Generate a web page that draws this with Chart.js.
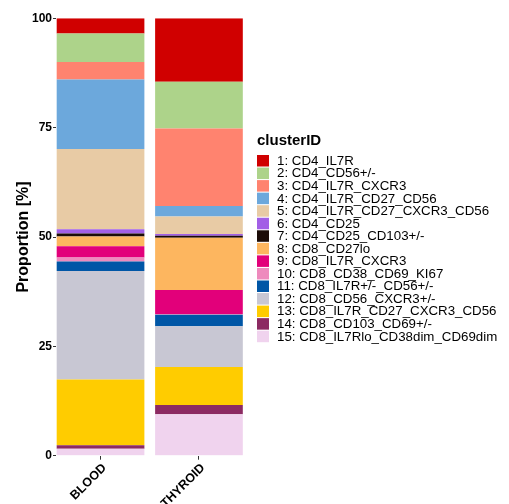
<!DOCTYPE html>
<html>
<head>
<meta charset="utf-8">
<script src="https://cdn.jsdelivr.net/npm/chart.js@4/dist/chart.umd.min.js"></script>
<style>
  html, body { margin: 0; padding: 0; background: #ffffff; }
  #wrap { width: 509px; height: 504px; position: relative; }
</style>
</head>
<body>
<div id="wrap"><canvas id="chart" width="509" height="504"></canvas></div>
<script>
// Sample groups on the x axis
const categories = ['BLOOD', 'THYROID'];

// Cluster names, listed top of the stack first
const clusterNames = [
  '1: CD4_IL7R',
  '2: CD4_CD56+/-',
  '3: CD4_IL7R_CXCR3',
  '4: CD4_IL7R_CD27_CD56',
  '5: CD4_IL7R_CD27_CXCR3_CD56',
  '6: CD4_CD25',
  '7: CD4_CD25_CD103+/-',
  '8: CD8_CD27lo',
  '9: CD8_IL7R_CXCR3',
  '10: CD8_CD38_CD69_KI67',
  '11: CD8_IL7R+/-_CD56+/-',
  '12: CD8_CD56_CXCR3+/-',
  '13: CD8_IL7R_CD27_CXCR3_CD56',
  '14: CD8_CD103_CD69+/-',
  '15: CD8_IL7Rlo_CD38dim_CD69dim'
];

const clusterColors = [
  '#D00000', '#ADD38A', '#FF836F', '#6CA8DC', '#E8CBA5',
  '#A25FE6', '#1B0C08', '#FDB65F', '#E2007A', '#EE8ABD',
  '#0056A6', '#C8C7D3', '#FFCC00', '#8C2A62', '#F0D3EE'
];

// Proportion [%] of each cluster, same order as clusterNames
const bloodValues   = [3.5, 6.5, 4.0, 15.9, 18.3, 1.0, 0.7, 2.2, 2.6, 0.9, 2.2, 24.8, 15.0, 0.8, 1.6];
const thyroidValues = [14.5, 10.7, 17.7, 2.4, 4.0, 0.4, 0.5, 11.9, 5.5, 0.2, 2.6, 9.3, 8.7, 2.1, 9.5];

const yTicks = [0, 25, 50, 75, 100];

const FONT = "'Liberation Sans', Arial, sans-serif";

// Stack from cluster 15 at the bottom up to cluster 1 at the top
const datasets = [];
for (let i = clusterNames.length - 1; i >= 0; i--) {
  datasets.push({
    label: clusterNames[i],
    data: [
      { x: 0, y: bloodValues[i] },
      { x: 1, y: thyroidValues[i] }
    ],
    backgroundColor: clusterColors[i],
    borderWidth: 0,
    categoryPercentage: 1.0,
    barPercentage: 0.891
  });
}

// Legend drawn at the right of the plot, cluster 1 first
const clusterLegend = {
  id: 'clusterLegend',
  afterDraw(chart) {
    const ctx = chart.ctx;
    ctx.save();
    ctx.fillStyle = '#000000';
    ctx.font = 'bold 15px ' + FONT;
    ctx.textAlign = 'left';
    ctx.textBaseline = 'alphabetic';
    ctx.fillText('clusterID', 257, 145);

    ctx.font = '13.3px ' + FONT;
    ctx.textBaseline = 'middle';
    const step = 12.55;
    for (let i = 0; i < clusterNames.length; i++) {
      const top = 155 + i * step;
      ctx.fillStyle = clusterColors[i];
      ctx.fillRect(257, top, 12, 11.5);
      ctx.fillStyle = '#000000';
      ctx.fillText(clusterNames[i], 277, top + 6.2);
    }
    ctx.restore();
  }
};

new Chart(document.getElementById('chart'), {
  type: 'bar',
  data: { datasets },
  options: {
    responsive: false,
    animation: false,
    layout: { padding: { top: 18.3, right: 265.5, bottom: 0, left: 0 } },
    plugins: {
      legend: { display: false },
      tooltip: { enabled: false }
    },
    scales: {
      x: {
        type: 'linear',
        stacked: true,
        offset: false,
        bounds: 'data',
        min: -0.4525,
        max: 1.4525,
        afterBuildTicks(scale) {
          scale.ticks = categories.map((_, i) => ({ value: i }));
        },
        afterFit(scale) { scale.height = 48.3; },
        border: { display: false },
        grid: {
          display: true,
          offset: false,
          drawOnChartArea: false,
          drawTicks: true,
          tickLength: 4,
          tickWidth: 1,
          tickColor: '#333333'
        },
        ticks: {
          autoSkip: false,
          minRotation: 45,
          maxRotation: 45,
          padding: 1,
          labelOffset: 4,
          color: '#000000',
          font: { family: FONT, size: 12.5, weight: 'bold' },
          callback: (v) => categories[v]
        }
      },
      y: {
        stacked: true,
        min: 0,
        max: 100,
        afterBuildTicks(scale) {
          scale.ticks = yTicks.map(v => ({ value: v }));
        },
        afterFit(scale) { scale.width = 56; },
        border: { display: false },
        grid: {
          display: true,
          drawOnChartArea: false,
          drawTicks: true,
          tickLength: 3,
          tickWidth: 1,
          tickColor: '#333333'
        },
        ticks: {
          padding: 1,
          color: '#000000',
          font: { family: FONT, size: 12, weight: 'bold' }
        },
        title: {
          display: true,
          text: 'Proportion [%]',
          color: '#000000',
          padding: { top: 14, bottom: 0 },
          font: { family: FONT, size: 16, weight: 'bold' }
        }
      }
    }
  },
  plugins: [clusterLegend]
});
</script>
</body>
</html>
